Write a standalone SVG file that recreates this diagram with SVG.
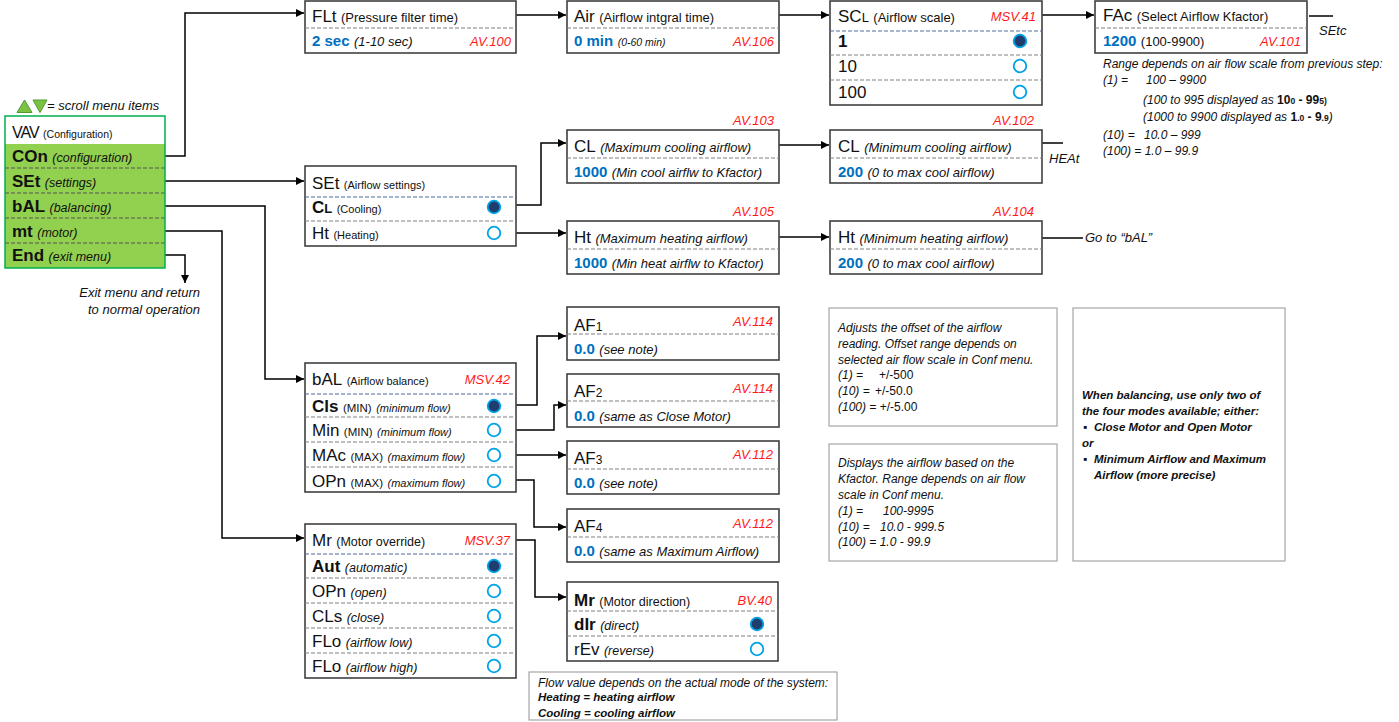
<svg xmlns="http://www.w3.org/2000/svg" width="1399" height="722" viewBox="0 0 1399 722">
<defs>
<style>
text{font-family:"Liberation Sans",Arial,sans-serif;fill:#111}
.box{fill:#fff;stroke:#404040;stroke-width:1.6}
.note{fill:#fff;stroke:#a6a6a6;stroke-width:1.2}
.dv{stroke:#808080;stroke-width:1;stroke-dasharray:4 2}
.dvb{stroke:#4f6d9c;stroke-width:1.2;stroke-dasharray:4 2}
.dvm{stroke:#555;stroke-width:1;stroke-dasharray:4 2}
.k{font-size:17px}
.kb{font-size:17px;font-weight:bold}
.s{font-size:13px}
.xs{font-size:11px}
.i{font-style:italic}
.red{fill:#ff1a1a;font-style:italic;font-size:13px}
.blue{fill:#0070c0;font-weight:bold;font-size:15px}
.n{font-size:12px;font-style:italic}
.nb{font-size:11.5px;font-style:italic;font-weight:bold}
.ron{fill:#1f3e6e;stroke:#00a2e8;stroke-width:1.8}
.roff{fill:#fff;stroke:#00a2e8;stroke-width:1.8}
.c{fill:none;stroke:#000;stroke-width:1.5}
</style>
<marker id="ah" viewBox="0 0 10 10" refX="10" refY="5" markerWidth="8" markerHeight="9" markerUnits="userSpaceOnUse" orient="auto">
<path d="M0,0 L10,5 L0,10 z" fill="#000"/>
</marker>
</defs>
<rect width="1399" height="722" fill="#fff"/>

<g id="connectors">
<path class="c" d="M160,156 H185 V13 H304" marker-end="url(#ah)"/>
<path class="c" d="M160,181 H304" marker-end="url(#ah)"/>
<path class="c" d="M160,206 H265 V379 H304" marker-end="url(#ah)"/>
<path class="c" d="M157,231 H222 V538 H304" marker-end="url(#ah)"/>
<path class="c" d="M157,255 H185 V283" marker-end="url(#ah)"/>
<path class="c" d="M516,15 H566" marker-end="url(#ah)"/>
<path class="c" d="M776,15 H829" marker-end="url(#ah)"/>
<path class="c" d="M1038,15 H1094" marker-end="url(#ah)"/>
<path class="c" d="M1309,16 H1333"/>
<path class="c" d="M512,205 H541 V143 H566" marker-end="url(#ah)"/>
<path class="c" d="M510,233 H566" marker-end="url(#ah)"/>
<path class="c" d="M776,145 H829" marker-end="url(#ah)"/>
<path class="c" d="M1038,143 H1063"/>
<path class="c" d="M776,237 H829" marker-end="url(#ah)"/>
<path class="c" d="M1038,238 H1083"/>
<path class="c" d="M512,405 H537 V336 H566" marker-end="url(#ah)"/>
<path class="c" d="M512,430 H554 V405 H566" marker-end="url(#ah)"/>
<path class="c" d="M509,455 H566" marker-end="url(#ah)"/>
<path class="c" d="M512,480 H534 V527 H566" marker-end="url(#ah)"/>
<path class="c" d="M515,540 H535 V597 H566" marker-end="url(#ah)"/>
</g>

<g id="legend">
<polygon points="17,112.5 24.5,100 32,112.5" fill="#7cc242" stroke="#4c9a30" stroke-width="1"/>
<polygon points="33,100 47,100 40,112.5" fill="#7cc242" stroke="#4c9a30" stroke-width="1"/>
<text x="47" y="110" class="s i">= scroll menu items</text>
</g>

<g id="menu">
<rect x="5" y="116" width="160" height="152" fill="#fff"/>
<rect x="5" y="144" width="160" height="124" fill="#92d050"/>
<line class="dvm" x1="5" y1="168" x2="165" y2="168"/>
<line class="dvm" x1="5" y1="193" x2="165" y2="193"/>
<line class="dvm" x1="5" y1="218" x2="165" y2="218"/>
<line class="dvm" x1="5" y1="243" x2="165" y2="243"/>
<rect x="5" y="116" width="160" height="152" fill="none" stroke="#00b050" stroke-width="1.5"/>
<text x="12" y="138"><tspan font-size="16" letter-spacing="-1">VAV</tspan> <tspan font-size="10.5">(Configuration)</tspan></text>
<text x="12" y="162"><tspan class="kb">COn</tspan> <tspan class="i" font-size="12.5">(configuration)</tspan></text>
<text x="12" y="187"><tspan class="kb">SEt</tspan> <tspan class="i" font-size="12.5">(settings)</tspan></text>
<text x="12" y="212"><tspan class="kb">bAL</tspan> <tspan class="i" font-size="12.5">(balancing)</tspan></text>
<text x="12" y="237"><tspan class="kb">mt</tspan> <tspan class="i" font-size="12.5">(motor)</tspan></text>
<text x="12" y="261"><tspan class="kb">End</tspan> <tspan class="i" font-size="12.5">(exit menu)</tspan></text>
</g>

<g id="exit-label">
<text x="200" y="297" text-anchor="end" class="s i">Exit menu and return</text>
<text x="200" y="314" text-anchor="end" class="s i">to normal operation</text>
</g>

<g id="node-flt">
<rect class="box" x="305" y="1" width="211" height="52"/>
<line class="dv" x1="305" y1="28" x2="516" y2="28"/>
<text x="312" y="22"><tspan class="k">FLt</tspan> <tspan class="s">(Pressure filter time)</tspan></text>
<text x="312" y="46"><tspan class="blue">2 sec</tspan> <tspan class="s i">(1-10 sec)</tspan></text>
<text x="511" y="46" text-anchor="end" class="red">AV.100</text>
</g>

<g id="node-air">
<rect class="box" x="567" y="1" width="212" height="52"/>
<line class="dv" x1="567" y1="28" x2="779" y2="28"/>
<text x="574" y="22"><tspan class="k">Air</tspan> <tspan class="s">(Airflow intgral time)</tspan></text>
<text x="574" y="46"><tspan class="blue">0 min</tspan> <tspan class="i" font-size="10.5">(0-60 min)</tspan></text>
<text x="774" y="46" text-anchor="end" class="red">AV.106</text>
</g>

<g id="node-scl">
<rect class="box" x="830" y="1" width="212" height="104"/>
<line class="dvb" x1="830" y1="31" x2="1042" y2="31"/>
<line class="dv" x1="830" y1="55" x2="1042" y2="55"/>
<line class="dv" x1="830" y1="80" x2="1042" y2="80"/>
<text x="838" y="22"><tspan class="k">SC</tspan><tspan class="s">L</tspan> <tspan class="s">(Airflow scale)</tspan></text>
<text x="1036" y="21" text-anchor="end" class="red">MSV.41</text>
<text x="838" y="47" class="kb">1</text>
<text x="838" y="72" class="k">10</text>
<text x="838" y="98" class="k">100</text>
<circle class="ron" cx="1020" cy="41" r="6.3"/>
<circle class="roff" cx="1020" cy="66" r="6.3"/>
<circle class="roff" cx="1020" cy="92" r="6.3"/>
</g>

<g id="node-fac">
<rect class="box" x="1095" y="1" width="212" height="52"/>
<line class="dv" x1="1095" y1="28" x2="1307" y2="28"/>
<text x="1103" y="21"><tspan class="k">FAc</tspan> <tspan class="s">(Select Airflow Kfactor)</tspan></text>
<text x="1103" y="46"><tspan class="blue">1200</tspan> <tspan class="s">(100-9900)</tspan></text>
<text x="1301" y="46" text-anchor="end" class="red">AV.101</text>
</g>

<g id="fac-note">
<text x="1319" y="35" class="s i">SEtc</text>
<text x="1103" y="68" class="n">Range depends on air flow scale from previous step:</text>
<text y="84" class="n"><tspan x="1103">(1) =</tspan><tspan x="1146">100 – 9900</tspan></text>
<text x="1143" y="104" class="n" font-size="11.5">(100 to 995 displayed as <tspan font-weight="bold" font-style="normal">10</tspan><tspan font-weight="bold" font-style="normal" font-size="8.5">0</tspan><tspan font-weight="bold" font-style="normal"> - 99</tspan><tspan font-weight="bold" font-style="normal" font-size="8.5">5)</tspan></text>
<text x="1143" y="121" class="n" font-size="11.5">(1000 to 9900 displayed as <tspan font-weight="bold" font-style="normal">1</tspan><tspan font-weight="bold" font-style="normal" font-size="8.5">.0</tspan><tspan font-weight="bold" font-style="normal"> - 9</tspan><tspan font-weight="bold" font-style="normal" font-size="8.5">.9</tspan>)</text>
<text y="139" class="n"><tspan x="1103">(10) =</tspan><tspan x="1144">10.0 – 999</tspan></text>
<text x="1103" y="155" class="n">(100) = 1.0 – 99.9</text>
</g>

<g id="node-set">
<rect class="box" x="305" y="166" width="211" height="80"/>
<line class="dvb" x1="305" y1="197" x2="516" y2="197"/>
<line class="dv" x1="305" y1="221" x2="516" y2="221"/>
<text x="312" y="189"><tspan class="k">SEt</tspan> <tspan class="xs">(Airflow settings)</tspan></text>
<text x="312" y="213"><tspan class="kb">C</tspan><tspan font-size="13" font-weight="bold">L</tspan> <tspan class="xs">(Cooling)</tspan></text>
<text x="312" y="239"><tspan class="k">Ht</tspan> <tspan class="xs">(Heating)</tspan></text>
<circle class="ron" cx="494" cy="207" r="6.3"/>
<circle class="roff" cx="494" cy="233" r="6.3"/>
</g>

<g id="node-clmax">
<text x="774" y="125" text-anchor="end" class="red">AV.103</text>
<rect class="box" x="567" y="130" width="212" height="53"/>
<line class="dv" x1="567" y1="158" x2="779" y2="158"/>
<text x="574" y="152"><tspan class="k">CL</tspan> <tspan class="s i">(Maximum cooling airflow)</tspan></text>
<text x="574" y="177"><tspan class="blue">1000</tspan> <tspan class="s i">(Min cool airflw to Kfactor)</tspan></text>
</g>

<g id="node-clmin">
<text x="1034" y="125" text-anchor="end" class="red">AV.102</text>
<rect class="box" x="830" y="130" width="212" height="53"/>
<line class="dv" x1="830" y1="158" x2="1042" y2="158"/>
<text x="838" y="152"><tspan class="k">CL</tspan> <tspan class="s i">(Minimum cooling airflow)</tspan></text>
<text x="838" y="177"><tspan class="blue">200</tspan> <tspan class="s i">(0 to max cool airflow)</tspan></text>
<text x="1049" y="163" class="s i">HEAt</text>
</g>

<g id="node-htmax">
<text x="774" y="216" text-anchor="end" class="red">AV.105</text>
<rect class="box" x="567" y="221" width="212" height="53"/>
<line class="dv" x1="567" y1="249" x2="779" y2="249"/>
<text x="574" y="243"><tspan class="k">Ht</tspan> <tspan class="s i">(Maximum heating airflow)</tspan></text>
<text x="574" y="268"><tspan class="blue">1000</tspan> <tspan class="s i">(Min heat airflw to Kfactor)</tspan></text>
</g>

<g id="node-htmin">
<text x="1034" y="216" text-anchor="end" class="red">AV.104</text>
<rect class="box" x="830" y="221" width="212" height="53"/>
<line class="dv" x1="830" y1="249" x2="1042" y2="249"/>
<text x="838" y="243"><tspan class="k">Ht</tspan> <tspan class="s i">(Minimum heating airflow)</tspan></text>
<text x="838" y="268"><tspan class="blue">200</tspan> <tspan class="s i">(0 to max cool airflow)</tspan></text>
<text x="1085" y="242" class="s i">Go to “bAL”</text>
</g>

<g id="node-bal">
<rect class="box" x="305" y="363" width="211" height="129"/>
<line class="dvb" x1="305" y1="394" x2="516" y2="394"/>
<line class="dv" x1="305" y1="417" x2="516" y2="417"/>
<line class="dv" x1="305" y1="442" x2="516" y2="442"/>
<line class="dv" x1="305" y1="467" x2="516" y2="467"/>
<text x="312" y="385"><tspan class="k">bAL</tspan> <tspan class="xs">(Airflow balance)</tspan></text>
<text x="510" y="384" text-anchor="end" class="red">MSV.42</text>
<text x="312" y="412"><tspan class="kb">Cls</tspan> <tspan font-size="11.5">(MIN)</tspan> <tspan class="xs i">(minimum flow)</tspan></text>
<text x="312" y="436"><tspan class="k">Min</tspan> <tspan font-size="11.5">(MIN)</tspan> <tspan class="xs i">(minimum flow)</tspan></text>
<text x="312" y="461"><tspan class="k">MAc</tspan> <tspan font-size="11.5">(MAX)</tspan> <tspan class="xs i">(maximum flow)</tspan></text>
<text x="312" y="487"><tspan class="k">OPn</tspan> <tspan font-size="11.5">(MAX)</tspan> <tspan class="xs i">(maximum flow)</tspan></text>
<circle class="ron" cx="494" cy="406" r="6.3"/>
<circle class="roff" cx="494" cy="430" r="6.3"/>
<circle class="roff" cx="494" cy="455" r="6.3"/>
<circle class="roff" cx="494" cy="481" r="6.3"/>
</g>

<g id="node-af1">
<rect class="box" x="567" y="307" width="212" height="53"/>
<line class="dv" x1="567" y1="334" x2="779" y2="334"/>
<text x="574" y="331"><tspan class="k">AF</tspan><tspan font-size="12">1</tspan></text>
<text x="773" y="326" text-anchor="end" class="red">AV.114</text>
<text x="574" y="354"><tspan class="blue">0.0</tspan> <tspan class="s i">(see note)</tspan></text>
</g>

<g id="node-af2">
<rect class="box" x="567" y="374" width="212" height="53"/>
<line class="dv" x1="567" y1="401" x2="779" y2="401"/>
<text x="574" y="397"><tspan class="k">AF</tspan><tspan font-size="12">2</tspan></text>
<text x="773" y="393" text-anchor="end" class="red">AV.114</text>
<text x="574" y="421"><tspan class="blue">0.0</tspan> <tspan class="s i">(same as Close Motor)</tspan></text>
</g>

<g id="node-af3">
<rect class="box" x="567" y="441" width="212" height="53"/>
<line class="dv" x1="567" y1="469" x2="779" y2="469"/>
<text x="574" y="464"><tspan class="k">AF</tspan><tspan font-size="12">3</tspan></text>
<text x="773" y="459" text-anchor="end" class="red">AV.112</text>
<text x="574" y="488"><tspan class="blue">0.0</tspan> <tspan class="s i">(see note)</tspan></text>
</g>

<g id="node-af4">
<rect class="box" x="567" y="509" width="212" height="53"/>
<line class="dv" x1="567" y1="537" x2="779" y2="537"/>
<text x="574" y="532"><tspan class="k">AF</tspan><tspan font-size="12">4</tspan></text>
<text x="773" y="528" text-anchor="end" class="red">AV.112</text>
<text x="574" y="556"><tspan class="blue">0.0</tspan> <tspan class="s i">(same as Maximum Airflow)</tspan></text>
</g>

<g id="node-mr">
<rect class="box" x="305" y="524" width="211" height="154"/>
<line class="dvb" x1="305" y1="554" x2="516" y2="554"/>
<line class="dv" x1="305" y1="578" x2="516" y2="578"/>
<line class="dv" x1="305" y1="603" x2="516" y2="603"/>
<line class="dv" x1="305" y1="628" x2="516" y2="628"/>
<line class="dv" x1="305" y1="653" x2="516" y2="653"/>
<text x="312" y="546"><tspan class="k">Mr</tspan> <tspan font-size="12.5">(Motor override)</tspan></text>
<text x="510" y="545" text-anchor="end" class="red">MSV.37</text>
<text x="312" y="572"><tspan class="kb">Aut</tspan> <tspan class="i" font-size="12.5">(automatic)</tspan></text>
<text x="312" y="597"><tspan class="k">OPn</tspan> <tspan class="i" font-size="12.5">(open)</tspan></text>
<text x="312" y="622"><tspan class="k">CLs</tspan> <tspan class="i" font-size="12.5">(close)</tspan></text>
<text x="312" y="647"><tspan class="k">FLo</tspan> <tspan class="i" font-size="12.5">(airflow low)</tspan></text>
<text x="312" y="672"><tspan class="k">FLo</tspan> <tspan class="i" font-size="12.5">(airflow high)</tspan></text>
<circle class="ron" cx="494" cy="566" r="6.3"/>
<circle class="roff" cx="494" cy="591" r="6.3"/>
<circle class="roff" cx="494" cy="616" r="6.3"/>
<circle class="roff" cx="494" cy="641" r="6.3"/>
<circle class="roff" cx="494" cy="666" r="6.3"/>
</g>

<g id="node-mrdir">
<rect class="box" x="567" y="582" width="211" height="79"/>
<line class="dv" x1="567" y1="611" x2="778" y2="611"/>
<line class="dv" x1="567" y1="636" x2="778" y2="636"/>
<text x="574" y="606"><tspan class="kb">Mr</tspan> <tspan font-size="12.5">(Motor direction)</tspan></text>
<text x="772" y="605" text-anchor="end" class="red">BV.40</text>
<text x="574" y="630"><tspan class="kb">dIr</tspan> <tspan class="i" font-size="12.5">(direct)</tspan></text>
<text x="574" y="655"><tspan class="k">rEv</tspan> <tspan class="i" font-size="12.5">(reverse)</tspan></text>
<circle class="ron" cx="757" cy="624" r="6.3"/>
<circle class="roff" cx="757" cy="649" r="6.3"/>
</g>

<g id="note-flow">
<rect class="note" x="529" y="672" width="308" height="48"/>
<text x="538" y="687" class="n">Flow value depends on the actual mode of the system:</text>
<text x="538" y="701" class="nb">Heating = heating airflow</text>
<text x="538" y="717" class="nb">Cooling = cooling airflow</text>
</g>

<g id="note-offset">
<rect class="note" x="829" y="308" width="228" height="118"/>
<text x="838" y="332" class="n">Adjusts the offset of the airflow</text>
<text x="838" y="348" class="n">reading. Offset range depends on</text>
<text x="838" y="364" class="n">selected air flow scale in Conf menu.</text>
<text y="379" class="n"><tspan x="838">(1) =</tspan><tspan x="879" font-style="normal">+/-500</tspan></text>
<text y="395" class="n"><tspan x="838">(10) =</tspan><tspan x="875" font-style="normal">+/-50.0</tspan></text>
<text x="838" y="411" class="n">(100) = <tspan font-style="normal">+/-5.00</tspan></text>
</g>

<g id="note-display">
<rect class="note" x="829" y="444" width="228" height="117"/>
<text x="838" y="467" class="n">Displays the airflow based on the</text>
<text x="838" y="483" class="n">Kfactor. Range depends on air flow</text>
<text x="838" y="499" class="n">scale in Conf menu.</text>
<text y="515" class="n"><tspan x="838">(1) =</tspan><tspan x="883">100-9995</tspan></text>
<text y="531" class="n"><tspan x="838">(10) =</tspan><tspan x="880">10.0 - 999.5</tspan></text>
<text x="838" y="546" class="n">(100) = 1.0 - 99.9</text>
</g>

<g id="note-balancing">
<rect class="note" x="1073" y="308" width="212" height="253"/>
<text x="1082" y="399" class="nb">When balancing, use only two of</text>
<text x="1082" y="415" class="nb">the four modes available; either:</text>
<text x="1083" y="431" class="nb">▪</text>
<text x="1094" y="431" class="nb">Close Motor and Open Motor</text>
<text x="1082" y="447" class="nb">or</text>
<text x="1083" y="463" class="nb">▪</text>
<text x="1094" y="463" class="nb">Minimum Airflow and Maximum</text>
<text x="1094" y="479" class="nb">Airflow (more precise)</text>
</g>
</svg>
